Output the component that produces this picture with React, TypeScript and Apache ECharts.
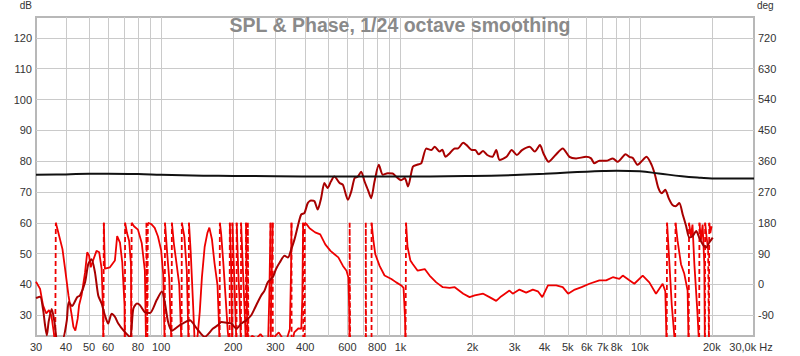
import React, { useEffect, useRef } from 'react';
import * as echarts from 'echarts';

const FONT = 'Arial, "Liberation Sans", Helvetica, sans-serif';

// axis ranges / ticks
const freqRange = [30, 30000];
const dbRange = [23.27, 126.77];
const degRange = [-150.6, 780.9];
const freqLabels = [30, 40, 50, 60, 80, 100, 200, 300, 400, 600, 800, 1000, 2000, 3000, 4000, 5000, 6000, 7000, 8000, 10000, 20000, 30000];
const freqGrid = [40, 50, 60, 70, 80, 90, 100, 200, 300, 400, 500, 600, 700, 800, 900, 1000, 2000, 3000, 4000, 5000, 6000, 7000, 8000, 9000, 10000, 20000];
const dbTicks = [30, 40, 50, 60, 70, 80, 90, 100, 110, 120];
const degTicks = [-90, 0, 90, 180, 270, 360, 450, 540, 630, 720];

// black reference curve (dB)
const blackCurve = [
  [30, 75.6], [40, 75.7], [50, 75.9], [60, 75.9], [80, 75.8], [100, 75.6], [150, 75.3], [200, 75.2],
  [300, 75.1], [500, 75.0], [1000, 75.0], [2000, 75.2], [3000, 75.5], [4000, 75.9], [5000, 76.3],
  [6000, 76.6], [7000, 76.8], [8000, 76.9], [10000, 76.7], [12000, 76.0], [15000, 75.1], [18000, 74.6],
  [20000, 74.4], [30000, 74.4],
];

// SPL curve (dB)
const splCurve = [
  [30, 35.6], [31.2, 36], [32.1, 32], [32.7, 27], [33.3, 23.5], [33.9, 28], [34.9, 32], [35.8, 28], [36.9, 22],
  [38.6, 22], [40.3, 28], [41.1, 34.3], [42.4, 33], [44.6, 35.9], [45.8, 36.4], [48.1, 40.7], [49.6, 46.6],
  [51.2, 48.2], [52.9, 43.9], [54.6, 36.4], [56.4, 33.8], [58.2, 30], [60.1, 27.3], [62.1, 30.5], [64.1, 29.5],
  [66.2, 27.3], [69.7, 25], [74.1, 23], [76.5, 32.1], [79.2, 33.8], [81.5, 33.3], [85.5, 31], [89.7, 30.7],
  [95.9, 35], [100.7, 37.7], [103.7, 34], [106.8, 28], [110.9, 25], [119.7, 26.8], [131.8, 28.4], [140.5, 25.8],
  [152, 23], [164.7, 25.7], [172.8, 26.8], [178.5, 27.8], [190.4, 27.5], [196.6, 27.3], [206.2, 25.7],
  [216.3, 27.3], [226.8, 28.4], [237.9, 30], [245.6, 32.1], [253.5, 34.3], [261.8, 36.4], [270.3, 38],
  [279, 40.7], [292.7, 42.3], [302, 45], [312.9, 47.1], [328, 49.3], [338.6, 48.7], [349.6, 51.4], [361, 54.7],
  [372.7, 59], [384.7, 62.7], [397, 63.2], [410, 66.4], [423, 67.2], [437, 67], [451, 64.3], [466, 68],
  [481, 72.9], [496, 71.3], [512, 73.4], [529, 75], [557, 72.9], [575, 72.3], [603, 67.5], [623, 70.2],
  [643, 74.5], [664, 75], [685, 76.6], [708, 73.4], [731, 70.7], [754, 68], [779, 73.4], [812, 78.8],
  [844, 75.6], [885, 76.1], [928, 76], [958, 75], [1005, 73.8], [1042, 74.5], [1075, 71.8], [1127, 78.2],
  [1180, 78.9], [1222, 79.3], [1283, 84.1], [1346, 83.6], [1390, 84.7], [1457, 83.1], [1495, 83.7],
  [1543, 81.4], [1604, 82.5], [1686, 84.1], [1735, 84.1], [1830, 86], [1890, 85.2], [1987, 83.6],
  [2053, 83.6], [2121, 82.2], [2214, 83.3], [2303, 82], [2418, 81.4], [2512, 83.6], [2593, 80.4],
  [2775, 81.4], [2916, 83.6], [3064, 82], [3220, 83.6], [3463, 84.7], [3641, 83.1], [3826, 85.2],
  [3958, 82.5], [4160, 79.8], [4446, 82], [4764, 84.1], [5080, 81.4], [5418, 80.9], [5965, 81.4],
  [6256, 80.9], [6455, 79.3], [6777, 80.1], [7230, 80.1], [7713, 80.9], [8080, 79.8], [8620, 82],
  [8722, 82.2], [9042, 81.4], [9350, 81], [9800, 78.8], [10130, 79.8], [10660, 81.4], [11200, 78.8],
  [11570, 75.6], [11950, 71.3], [12350, 69.6], [12770, 70.7], [13200, 68], [13650, 65.9], [14100, 65.4],
  [14620, 66.4], [15110, 62.7], [15620, 58.9], [16100, 55.2], [16640, 55.7], [17200, 57.3], [17720, 55.2],
  [18300, 53.1], [18920, 52], [19510, 53.6], [20170, 55.2],
];

// phase (deg), wrapped to +-180
const phaseCurve = [
  [30, 8], [31.2, -13], [32.1, -61], [33.1, -85], [34, -75], [34.8, -92], [35.6, -140], [36.1, -180],
  [36.3, 180], [37.2, 151], [38.7, 103], [39.7, 45], [41, -32], [42.3, -90], [43, -124], [43.8, -135], [44.8, -100],
  [45.4, -61], [46.5, -32], [48.1, 35], [49.1, 94], [50, 84], [50.8, 50], [51.9, 69], [53.7, 98], [55.1, 94],
  [56.4, 46], [57.1, -60], [57.4, -180],
  [57.6, 180], [58.2, 46], [61.1, 50], [64.1, 70], [65.5, 141], [67.3, 122], [68.8, 64], [70.3, -60], [70.5, -180],
  [70.7, 180], [72, 150], [73.5, 127], [74.8, 60], [75.1, -180],
  [75.3, 180], [77, 170], [80, 160], [83, 120], [85.5, 40], [86.5, -180],
  [86.8, 180], [87.6, -180],
  [88, 180], [91, 176], [94, 165], [97, 140], [100, 100], [102, 30], [103.5, -180],
  [103.8, 180], [106, 90], [108, 20], [110.5, -180],
  [110.9, 180], [113, 120], [116, 60], [119, 0], [121.7, -180],
  [122, 180], [125, 140], [128, 40], [130.3, -180],
  [130.7, 180], [133, 90], [136, -60], [138, -165], [140, -172], [142, -150], [145, -80], [148, 20], [152, 110],
  [156, 150], [159, 166], [163, 132], [167, 64], [172, -3], [174.5, -120], [175.6, -180],
  [175.9, 180], [178, 150], [182, 60], [186, -40], [190, -140], [193.3, -180],
  [193.6, 180], [196, 60], [198.2, -180],
  [198.5, 180], [202, 20], [206.5, -180],
  [206.8, 180], [210, 40], [213, -60], [215.5, -180],
  [215.8, 180], [220, 30], [224, -100], [226, -180],
  [226.3, 180], [228, -60], [230, -180],
  [230.3, 180], [231.5, -165], [240, -150], [250, -158], [260, -145], [270, -160], [280, -160], [283, -40], [286.5, 180],
  [286.8, -180], [288, -60], [292.5, 180],
  [292.8, -180], [300, -150], [310, -140], [320, -155], [335, -160], [345, -130], [349, 40], [350.5, 180],
  [350.8, -180], [360, -140], [375, -128], [385, -130], [389, -40], [392, 180],
  [392.3, -180], [396, -176], [398, -180],
  [398.3, 180], [405, 176], [417, 164], [440, 152], [462, 146], [485, 117], [510, 98], [530, 88], [550, 79],
  [575, 54], [595, 40], [606, 20], [611, -80], [613, -180],
  [613.3, 180], [616, -170], [640, -165], [680, -172], [712, -168], [716, -180],
  [716.3, 180], [718, -170], [735, -160], [750, -175], [757, -180],
  [757.3, 180], [770, 130], [785, 88], [818, 54], [858, 26], [916, 16], [960, 6], [1008, -3], [1030, -10],
  [1045, -100], [1050, -180],
  [1055, 180], [1070, 110], [1100, 70], [1127, 59], [1180, 40], [1263, 45], [1323, 26], [1411, 6], [1503, -8],
  [1604, -10], [1686, -8], [1830, -27], [1944, -37], [2043, -32], [2216, -27], [2355, -37], [2512, -48],
  [2633, -35], [2854, -18], [2945, -27], [3141, -15], [3350, -24], [3573, -15], [3750, -20], [3914, -37],
  [4133, -3], [4476, -3], [4764, -8], [5016, -27], [5352, -15], [5711, -8], [6157, 2], [6777, 12], [7230, 12],
  [7713, 21], [8214, 16], [8487, 26], [9042, 12], [9487, 2], [10282, 26], [10958, 6], [11686, -27],
  [12459, 2], [12780, -20], [12950, -180],
  [13000, 180], [13600, -60], [14050, -180],
  [14100, 180], [14385, 127], [14862, 59], [15343, 31], [15838, -18], [16000, -180],
  [16060, 180], [16350, 140], [16600, 175], [16900, 60], [17400, -80], [17700, -180],
  [17750, 180], [18000, 130], [18300, 175], [18600, 60], [18700, -180],
  [18750, 180], [19000, 140], [19300, 100], [19450, -180],
  [19500, 180], [19700, 150], [19950, 170],
];

function fmtFreq(v: number): string {
  if (v >= 30000) return '{r|30,0k Hz}';
  if (v >= 1000) return v / 1000 + 'k';
  return String(v);
}

export default function App() {
  const ref = useRef<HTMLDivElement>(null);
  useEffect(() => {
    const chart = echarts.init(ref.current!, null, { renderer: 'svg' });

    const solid: any[] = [];
    const wraps: any[] = [];
    for (let i = 0; i < phaseCurve.length; i++) {
      const p = phaseCurve[i];
      if (i > 0) {
        const q = phaseCurve[i - 1];
        if (Math.abs(p[1] - q[1]) > 270) {
          const mid = (p[0] + q[0]) / 2;
          solid.push([mid, '-']);
          wraps.push(q, p, [mid, '-']);
        }
      }
      solid.push(p);
    }

    const labelStyle = { color: '#333', fontSize: 11, fontFamily: FONT };

    chart.setOption({
      animation: false,
      backgroundColor: '#fff',
      title: {
        text: 'SPL & Phase, 1/24 octave smoothing',
        left: 'center',
        top: 10,
        padding: 5,
        textStyle: { color: '#8a8a8a', fontSize: 19.5, fontWeight: 'bold', fontFamily: FONT },
      },
      grid: {
        left: 36, right: 46, top: 13, bottom: 20,
        show: true, borderColor: '#b8b8b8', borderWidth: 2, backgroundColor: '#fff',
      },
      xAxis: {
        type: 'log',
        logBase: 10,
        min: freqRange[0],
        max: freqRange[1],
        axisLine: { show: false },
        axisTick: { show: false, customValues: freqGrid },
        splitLine: { show: true, lineStyle: { color: '#cacaca', width: 1 } },
        minorTick: { show: false },
        axisLabel: {
          ...labelStyle,
          margin: 5,
          customValues: freqLabels,
          formatter: (v: number) => fmtFreq(v),
          rich: { r: { ...labelStyle, padding: [0, 6, 0, 0] } },
        },
      },
      yAxis: [
        {
          type: 'value',
          min: dbRange[0],
          max: dbRange[1],
          name: 'dB',
          nameLocation: 'end',
          nameGap: 7,
          nameTextStyle: { color: '#333', fontSize: 10, fontFamily: FONT, align: 'right', padding: [0, 4, 0, 0] },
          axisLine: { show: false },
          axisTick: { show: false, customValues: dbTicks },
          splitLine: { show: true, lineStyle: { color: '#cacaca', width: 1 } },
          axisLabel: { ...labelStyle, margin: 4, customValues: dbTicks },
        },
        {
          type: 'value',
          min: degRange[0],
          max: degRange[1],
          name: 'deg',
          nameLocation: 'end',
          nameGap: 7,
          nameTextStyle: { color: '#333', fontSize: 10, fontFamily: FONT, align: 'left', padding: [0, 0, 0, 3] },
          axisLine: { show: false },
          axisTick: { show: false, customValues: degTicks },
          splitLine: { show: false },
          axisLabel: { ...labelStyle, margin: 4, customValues: degTicks },
        },
      ],
      series: [
        {
          name: 'Phase',
          type: 'line',
          yAxisIndex: 1,
          data: solid,
          showSymbol: false,
          connectNulls: false,
          lineStyle: { color: '#ee0000', width: 1.8 },
          z: 2,
        },
        {
          name: 'Phase wrap',
          type: 'line',
          yAxisIndex: 1,
          data: wraps,
          showSymbol: false,
          connectNulls: false,
          lineStyle: { color: '#ee0000', width: 1.8, type: [5, 3] },
          z: 2,
        },
        {
          name: 'SPL',
          type: 'line',
          yAxisIndex: 0,
          data: splCurve,
          showSymbol: false,
          smooth: 0.25,
          lineStyle: { color: '#a80000', width: 2 },
          z: 3,
        },
        {
          name: 'Reference',
          type: 'line',
          yAxisIndex: 0,
          data: blackCurve,
          showSymbol: false,
          smooth: 0.4,
          lineStyle: { color: '#111', width: 2 },
          z: 4,
        },
      ],
    });
    return () => chart.dispose();
  }, []);
  return <div ref={ref} style={{ position: 'fixed', left: 0, top: 0, width: 800, height: 356 }} />;
}
